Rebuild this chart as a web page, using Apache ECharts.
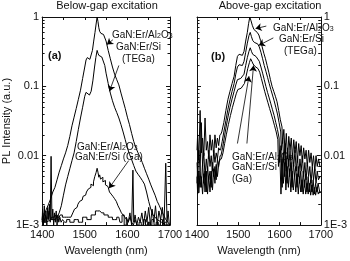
<!DOCTYPE html>
<html>
<head>
<meta charset="utf-8">
<script src="https://cdn.jsdelivr.net/npm/echarts@6/dist/echarts.min.js"></script>
<style>
  html, body { margin: 0; padding: 0; background: #fff; }
  #chart { width: 350px; height: 261px; }
</style>
</head>
<body>
<div id="chart"></div>
<script>
// Valeurs : [longueur d'onde (nm), intensité PL (u.a.)]
const panelTitles = ["Below-gap excitation", "Above-gap excitation"];
const xTicks = [1400, 1500, 1600, 1700];
const yTickLabels = ["1", "0.1", "0.01", "1E-3"]; // index = -log10(valeur)

// --- (a) excitation sous le gap ---
const belowAlTEGa = [
  [1400,0.0012],[1405,0.0014],[1410,0.0017],[1415,0.002],[1420,0.0024],[1425,0.003],[1430,0.0035],
  [1435,0.0045],[1440,0.0058],[1445,0.0072],[1450,0.009],[1455,0.011],[1460,0.014],[1465,0.019],
  [1470,0.027],[1475,0.036],[1480,0.048],[1485,0.065],[1490,0.088],[1495,0.13],[1500,0.19],
  [1503,0.24],[1506,0.26],[1509,0.255],[1512,0.245],[1515,0.26],[1518,0.33],[1521,0.45],[1524,0.6],
  [1527,0.82],[1529,1.0],[1531,0.86],[1533,0.7],[1535,0.62],[1538,0.58],[1541,0.57],[1544,0.56],
  [1547,0.53],[1550,0.45],[1555,0.33],[1560,0.25],[1565,0.19],[1570,0.15],[1575,0.125],[1580,0.105],
  [1585,0.08],[1590,0.062],[1595,0.048],[1600,0.036],[1605,0.028],[1610,0.021],[1615,0.016],
  [1620,0.013],[1625,0.011],[1630,0.0095],[1635,0.008],[1640,0.0066],[1645,0.0055],[1650,0.0046],
  [1655,0.0038],[1660,0.0032],[1665,0.0027],[1670,0.0022],[1675,0.0019],[1680,0.0016],[1685,0.0014],
  [1690,0.0012],[1695,0.0011],[1700,0.001]
];
const belowSiTEGa = [
  [1400,0.0011],[1410,0.0011],[1420,0.0012],[1430,0.0012],[1435,0.0013],[1440,0.0015],[1445,0.0019],
  [1450,0.0027],[1455,0.0038],[1460,0.005],[1465,0.0065],[1470,0.0085],[1475,0.011],[1480,0.016],
  [1485,0.024],[1490,0.035],[1495,0.05],[1500,0.072],[1503,0.082],[1507,0.08],[1511,0.075],
  [1515,0.085],[1519,0.12],[1523,0.19],[1526,0.26],[1529,0.33],[1531,0.3],[1533,0.28],[1536,0.27],
  [1540,0.265],[1544,0.25],[1547,0.2],[1550,0.155],[1555,0.11],[1560,0.08],[1565,0.062],[1570,0.05],
  [1575,0.042],[1580,0.035],[1585,0.028],[1590,0.022],[1595,0.017],[1600,0.013],[1605,0.0105],
  [1610,0.0088],[1615,0.0072],[1620,0.006],[1625,0.0054],[1630,0.0049],[1635,0.0044],[1640,0.0039],
  [1645,0.003],[1650,0.0022],[1655,0.0017],[1660,0.0014],[1670,0.0012],[1680,0.0011],[1690,0.001],
  [1700,0.001]
];
const belowSiGa = [
  [1400,0.0012],[1403,0.0015],[1406,0.0011],[1409,0.0014],[1412,0.0012],[1415,0.0013],[1418,0.0016],
  [1421,0.0012],[1424,0.0013],[1428,0.0013],[1432,0.0014],[1436,0.0013],[1440,0.0013],[1445,0.0014],
  [1450,0.0013],[1455,0.0013],[1460,0.0013],[1465,0.0013],[1470,0.0013],[1474,0.0015],[1478,0.0017],
  [1482,0.0018],[1486,0.002],[1490,0.0022],[1494,0.0023],[1498,0.0026],[1502,0.0027],[1506,0.003],
  [1510,0.0033],[1513,0.0035],[1516,0.0039],[1519,0.0037],[1522,0.0042],[1525,0.005],[1528,0.0057],
  [1530,0.0066],[1532,0.0058],[1534,0.0049],[1536,0.0053],[1538,0.0046],[1541,0.0049],[1544,0.0042],
  [1547,0.0044],[1550,0.0038],[1553,0.0036],[1556,0.0034],[1560,0.003],[1564,0.0028],[1568,0.0026],
  [1572,0.0024],[1576,0.0022],[1580,0.0019],[1584,0.0017],[1588,0.0015],[1592,0.0014],[1596,0.0013],
  [1600,0.0012],[1604,0.0011],[1608,0.0013],[1612,0.0011],[1616,0.001],[1620,0.0012],[1625,0.001],
  [1630,0.0011],[1635,0.001],[1640,0.0012],[1645,0.001],[1650,0.0011],[1655,0.001],[1660,0.0012],
  [1665,0.001],[1670,0.0011],[1675,0.001],[1680,0.0012],[1685,0.001],[1690,0.0011],[1695,0.001],
  [1700,0.001]
];
const belowAlGa = [
  [1400,0.0011],[1402,0.0017],[1404,0.001],[1406,0.0019],[1408,0.0011],[1410,0.0016],[1412,0.001],
  [1414,0.0018],[1416,0.0012],[1418,0.002],[1420,0.0011],[1422,0.0098],[1424,0.0012],[1426,0.0017],
  [1428,0.001],[1430,0.0015],[1432,0.0011],[1434,0.0016],[1436,0.001],[1438,0.0014],[1440,0.0011],
  [1443,0.0013],[1446,0.0011],[1450,0.0012],[1455,0.0011],[1460,0.0012],[1470,0.0011],[1480,0.0012],
  [1490,0.0011],[1500,0.0013],[1510,0.0012],[1520,0.0014],[1530,0.0016],[1540,0.0015],[1550,0.0014],
  [1560,0.0013],[1570,0.0012],[1580,0.0013],[1585,0.0011],[1590,0.0014],[1595,0.001],[1600,0.0013],
  [1604,0.0011],[1608,0.0015],[1612,0.001],[1614,0.0062],[1616,0.0011],[1620,0.0014],[1624,0.001],
  [1628,0.0013],[1632,0.0011],[1636,0.0015],[1640,0.001],[1644,0.0016],[1648,0.0011],[1652,0.0018],
  [1656,0.001],[1660,0.0017],[1664,0.0011],[1668,0.0019],[1672,0.001],[1676,0.0016],[1680,0.0012],
  [1684,0.0018],[1688,0.001],[1692,0.0078],[1694,0.0011],[1697,0.0016],[1700,0.001]
];

// --- (b) excitation au-dessus du gap ---
const aboveAlTEGa = [
  [1400,0.012],[1403,0.02],[1406,0.009],[1409,0.045],[1412,0.011],[1415,0.018],[1418,0.01],[1421,0.035],
  [1424,0.012],[1427,0.016],[1430,0.009],[1433,0.02],[1436,0.012],[1439,0.017],[1442,0.01],[1445,0.02],
  [1448,0.013],[1451,0.018],[1454,0.014],[1457,0.02],[1460,0.022],[1465,0.03],[1470,0.045],[1475,0.065],
  [1480,0.085],[1485,0.11],[1490,0.14],[1494,0.2],[1498,0.27],[1502,0.29],[1506,0.28],[1510,0.28],
  [1514,0.32],[1518,0.45],[1522,0.6],[1525,0.8],[1528,1.0],[1531,0.88],[1534,0.76],[1538,0.66],
  [1542,0.62],[1546,0.6],[1550,0.55],[1554,0.46],[1558,0.37],[1562,0.3],[1566,0.25],[1570,0.2],
  [1574,0.16],[1578,0.125],[1582,0.1],[1586,0.085],[1590,0.072],[1594,0.06],[1598,0.045],[1602,0.033],
  [1606,0.026],[1609,0.015],[1612,0.024],[1615,0.011],[1618,0.021],[1621,0.009],[1624,0.019],
  [1627,0.012],[1630,0.018],[1633,0.009],[1636,0.017],[1639,0.011],[1642,0.016],[1645,0.008],
  [1648,0.015],[1651,0.01],[1654,0.014],[1657,0.008],[1660,0.013],[1663,0.009],[1666,0.012],
  [1669,0.007],[1672,0.012],[1675,0.008],[1678,0.011],[1681,0.007],[1684,0.01],[1687,0.006],
  [1690,0.01],[1693,0.007],[1696,0.009],[1700,0.007]
];
const aboveSiTEGa = [
  [1400,0.008],[1403,0.005],[1406,0.012],[1409,0.006],[1412,0.03],[1415,0.007],[1418,0.011],[1421,0.005],
  [1424,0.009],[1427,0.006],[1430,0.012],[1433,0.007],[1436,0.01],[1439,0.006],[1442,0.012],[1445,0.008],
  [1448,0.011],[1451,0.009],[1454,0.013],[1457,0.012],[1461,0.016],[1465,0.022],[1470,0.032],
  [1475,0.047],[1480,0.064],[1485,0.085],[1490,0.11],[1494,0.15],[1498,0.19],[1502,0.205],[1506,0.2],
  [1510,0.2],[1514,0.23],[1518,0.31],[1522,0.42],[1526,0.54],[1529,0.6],[1532,0.52],[1535,0.46],
  [1539,0.43],[1543,0.42],[1547,0.41],[1551,0.37],[1555,0.31],[1559,0.25],[1563,0.2],[1567,0.165],
  [1571,0.135],[1575,0.11],[1579,0.09],[1583,0.075],[1587,0.062],[1591,0.05],[1595,0.04],[1599,0.03],
  [1603,0.022],[1606,0.012],[1609,0.018],[1612,0.008],[1615,0.015],[1618,0.006],[1621,0.013],
  [1624,0.007],[1627,0.012],[1630,0.006],[1633,0.011],[1636,0.007],[1639,0.012],[1642,0.006],
  [1645,0.01],[1648,0.005],[1651,0.009],[1654,0.006],[1657,0.01],[1660,0.005],[1663,0.008],
  [1666,0.0045],[1669,0.008],[1672,0.005],[1675,0.007],[1678,0.004],[1681,0.007],[1684,0.0045],
  [1687,0.0065],[1690,0.004],[1693,0.006],[1696,0.0045],[1700,0.005]
];
const aboveAlGa = [
  [1400,0.004],[1403,0.007],[1406,0.003],[1409,0.006],[1412,0.0035],[1415,0.008],[1418,0.004],
  [1421,0.006],[1424,0.003],[1427,0.007],[1430,0.0045],[1433,0.006],[1436,0.0035],[1439,0.008],
  [1442,0.005],[1445,0.007],[1448,0.0045],[1451,0.009],[1454,0.007],[1458,0.01],[1462,0.013],
  [1466,0.018],[1470,0.025],[1475,0.036],[1480,0.05],[1485,0.066],[1490,0.085],[1494,0.105],
  [1498,0.125],[1502,0.133],[1506,0.13],[1510,0.13],[1514,0.15],[1518,0.2],[1522,0.26],[1526,0.32],
  [1529,0.36],[1532,0.32],[1535,0.29],[1539,0.275],[1543,0.27],[1547,0.26],[1551,0.23],[1555,0.19],
  [1559,0.155],[1563,0.125],[1567,0.1],[1571,0.082],[1575,0.068],[1579,0.056],[1583,0.046],
  [1587,0.038],[1591,0.03],[1595,0.024],[1599,0.018],[1602,0.008],[1605,0.014],[1608,0.0035],
  [1611,0.011],[1614,0.005],[1617,0.01],[1620,0.004],[1623,0.009],[1626,0.005],[1629,0.008],
  [1632,0.0035],[1635,0.008],[1638,0.005],[1641,0.007],[1644,0.0035],[1647,0.007],[1650,0.004],
  [1653,0.006],[1656,0.003],[1659,0.006],[1662,0.0035],[1665,0.0055],[1668,0.003],[1671,0.005],
  [1674,0.003],[1677,0.0045],[1680,0.003],[1683,0.0045],[1686,0.0028],[1689,0.004],[1692,0.003],
  [1695,0.004],[1700,0.003]
];
const aboveSiGa = [
  [1400,0.005],[1403,0.0028],[1406,0.006],[1409,0.0035],[1412,0.005],[1415,0.0028],[1418,0.0055],
  [1421,0.003],[1424,0.006],[1427,0.0028],[1430,0.005],[1433,0.003],[1436,0.006],[1439,0.0032],
  [1442,0.0065],[1445,0.004],[1448,0.0075],[1451,0.005],[1455,0.008],[1459,0.009],[1463,0.011],
  [1467,0.015],[1471,0.02],[1476,0.028],[1481,0.038],[1486,0.05],[1491,0.064],[1495,0.078],
  [1499,0.09],[1503,0.096],[1507,0.094],[1511,0.095],[1515,0.11],[1519,0.14],[1523,0.18],[1527,0.22],
  [1530,0.25],[1533,0.23],[1536,0.21],[1540,0.195],[1544,0.19],[1548,0.18],[1552,0.16],[1556,0.13],
  [1560,0.105],[1564,0.085],[1568,0.07],[1572,0.058],[1576,0.048],[1580,0.04],[1584,0.033],
  [1588,0.027],[1592,0.022],[1596,0.017],[1599,0.007],[1602,0.012],[1605,0.0028],[1608,0.009],
  [1611,0.004],[1614,0.008],[1617,0.0032],[1620,0.007],[1623,0.0035],[1626,0.0065],[1629,0.003],
  [1632,0.006],[1635,0.0032],[1638,0.0055],[1641,0.003],[1644,0.0055],[1647,0.0028],[1650,0.005],
  [1653,0.003],[1656,0.0045],[1659,0.0028],[1662,0.0045],[1665,0.0028],[1668,0.004],[1671,0.0028],
  [1674,0.004],[1677,0.0027],[1680,0.0038],[1683,0.0027],[1686,0.0035],[1689,0.0027],[1692,0.0035],
  [1696,0.0028],[1700,0.003]
];
// Limites (nm) entre ailes bruitées et pic, pour chaque spectre (b)
const aboveCoreRange = [[1457, 1606], [1457, 1603], [1458, 1599], [1459, 1596]];

// Flèches d'annotation : [départ, arrivée] en coordonnées de données
const arrowsBelow = [
  [[1566, 0.47], [1552, 0.40]],
  [[1580, 0.2], [1558, 0.085]],
  [[1603, 0.0085], [1557, 0.0034]]
];
const arrowsAbove = [
  [[1568, 0.74], [1542, 0.68]],
  [[1585, 0.5], [1550, 0.39]],
  [[1498, 0.015], [1526, 0.14]],
  [[1521, 0.015], [1537, 0.2]]
];

const FONT = "Liberation Sans";
const INK = "#111";

function xAxisFor(gridIndex, bottom) {
  return {
    type: "value",
    gridIndex: gridIndex,
    position: bottom ? "bottom" : "top",
    min: 1400,
    max: 1700,
    interval: 100,
    name: bottom ? "Wavelength (nm)" : "",
    nameLocation: "middle",
    nameGap: 19,
    nameTextStyle: { fontFamily: FONT, fontSize: 11, color: INK },
    axisLine: { show: true, onZero: false, lineStyle: { color: INK, width: 1 } },
    axisTick: { show: true, inside: true, length: 3, lineStyle: { color: INK } },
    minorTick: { show: true, splitNumber: 2, length: 3, lineStyle: { color: INK } },
    axisLabel: {
      show: bottom,
      margin: 4,
      fontFamily: FONT,
      fontSize: 11,
      color: INK,
      formatter: (v) => (xTicks.includes(v) ? String(v) : "")
    },
    splitLine: { show: false }
  };
}

function yAxisFor(gridIndex, position, labels) {
  return {
    type: "log",
    logBase: 10,
    gridIndex: gridIndex,
    position: position,
    min: 0.001,
    max: 1,
    name: labels && position === "left" ? "PL Intensity (a.u.)" : "",
    nameLocation: "middle",
    nameGap: 29,
    nameTextStyle: { fontFamily: FONT, fontSize: 11, color: INK },
    axisLine: { show: true, lineStyle: { color: INK, width: 1 } },
    axisTick: { show: true, inside: true, length: 4, lineStyle: { color: INK } },
    minorTick: { show: true, splitNumber: 9, length: 2.5, lineStyle: { color: INK } },
    axisLabel: {
      show: labels,
      margin: 3,
      fontFamily: FONT,
      fontSize: 11,
      color: INK,
      formatter: (v) => yTickLabels[Math.round(-Math.log10(v))] || ""
    },
    splitLine: { show: false }
  };
}

// step = true pour les parties bruitées (aspect en escalier du détecteur)
function line(name, data, axis, step, arrows) {
  const s = {
    name: name,
    type: "line",
    xAxisIndex: axis,
    yAxisIndex: axis,
    data: data,
    step: step ? "middle" : false,
    showSymbol: false,
    symbol: "none",
    lineStyle: { color: "#000", width: 1 },
    silent: true,
    animation: false
  };
  if (arrows) {
    s.markLine = {
      silent: true,
      animation: false,
      symbol: ["none", "arrow"],
      symbolSize: 6,
      label: { show: false },
      lineStyle: { color: "#000", width: 0.8, type: "solid" },
      data: arrows.map((a) => [{ coord: a[0] }, { coord: a[1] }])
    };
  }
  return s;
}

// Un spectre (b) = aile gauche en escalier + pic lisse + aile droite en escalier
function aboveSpectrum(name, data, range, arrows) {
  const [lo, hi] = range;
  return [
    line(name, data.filter((p) => p[0] <= lo), 2, true),
    line(name, data.filter((p) => p[0] >= lo && p[0] <= hi), 2, false, arrows),
    line(name, data.filter((p) => p[0] >= hi), 2, true)
  ];
}

const rich = { s: { fontSize: 7, fontFamily: FONT, fill: INK, verticalAlign: "bottom" } };
function note(x, y, text, opts) {
  return {
    type: "text",
    left: x,
    top: y,
    silent: true,
    style: Object.assign(
      { text: text, fontFamily: FONT, fontSize: 10, fill: INK, rich: rich },
      opts || {}
    )
  };
}

const chart = echarts.init(document.getElementById("chart"));

chart.setOption({
  animation: false,
  backgroundColor: "#fff",
  title: [
    { text: panelTitles[0], left: 107, top: 0, textAlign: "center", padding: 0,
      textStyle: { fontFamily: FONT, fontSize: 11, fontWeight: "normal", color: INK } },
    { text: panelTitles[1], left: 270, top: 0, textAlign: "center", padding: 0,
      textStyle: { fontFamily: FONT, fontSize: 11, fontWeight: "normal", color: INK } }
  ],
  grid: [
    { left: 40, top: 17, width: 130, height: 209 },
    { left: 197, top: 17, width: 131, height: 209 }
  ],
  xAxis: [xAxisFor(0, true), xAxisFor(0, false), xAxisFor(1, true), xAxisFor(1, false)],
  yAxis: [
    yAxisFor(0, "left", true),
    yAxisFor(0, "right", false),
    yAxisFor(1, "right", true),
    yAxisFor(1, "left", false)
  ],
  series: [
    line("GaN:Er/Al2O3 (TEGa)", belowAlTEGa, 0, false, arrowsBelow),
    line("GaN:Er/Si (TEGa)", belowSiTEGa, 0, false),
    line("GaN:Er/Al2O3 (Ga)", belowAlGa, 0, true),
    line("GaN:Er/Si (Ga)", belowSiGa, 0, true),
    ...aboveSpectrum("GaN:Er/Al2O3 (TEGa)", aboveAlTEGa, aboveCoreRange[0], arrowsAbove),
    ...aboveSpectrum("GaN:Er/Si (TEGa)", aboveSiTEGa, aboveCoreRange[1]),
    ...aboveSpectrum("GaN:Er/Al2O3 (Ga)", aboveAlGa, aboveCoreRange[2]),
    ...aboveSpectrum("GaN:Er/Si (Ga)", aboveSiGa, aboveCoreRange[3])
  ],
  graphic: [
    note(48, 50, "(a)", { fontSize: 11, fontWeight: "bold" }),
    note(112, 30, "GaN:Er/Al{s|2}O{s|3}"),
    note(116, 42, "GaN:Er/Si"),
    note(122, 54, "(TEGa)"),
    note(77, 142, "GaN:Er/Al{s|2}O{s|3}", { backgroundColor: "#fff" }),
    note(75, 152, "GaN:Er/Si (Ga)", { backgroundColor: "#fff" }),
    note(211, 51, "(b)", { fontSize: 11, fontWeight: "bold" }),
    note(273, 23, "GaN:Er/Al{s|2}O{s|3}"),
    note(279, 34, "GaN:Er/Si"),
    note(284, 46, "(TEGa)"),
    note(232, 152, "GaN:Er/Al{s|2}O{s|3}"),
    note(232, 162, "GaN:Er/Si"),
    note(232, 174, "(Ga)")
  ]
});
</script>
</body>
</html>
